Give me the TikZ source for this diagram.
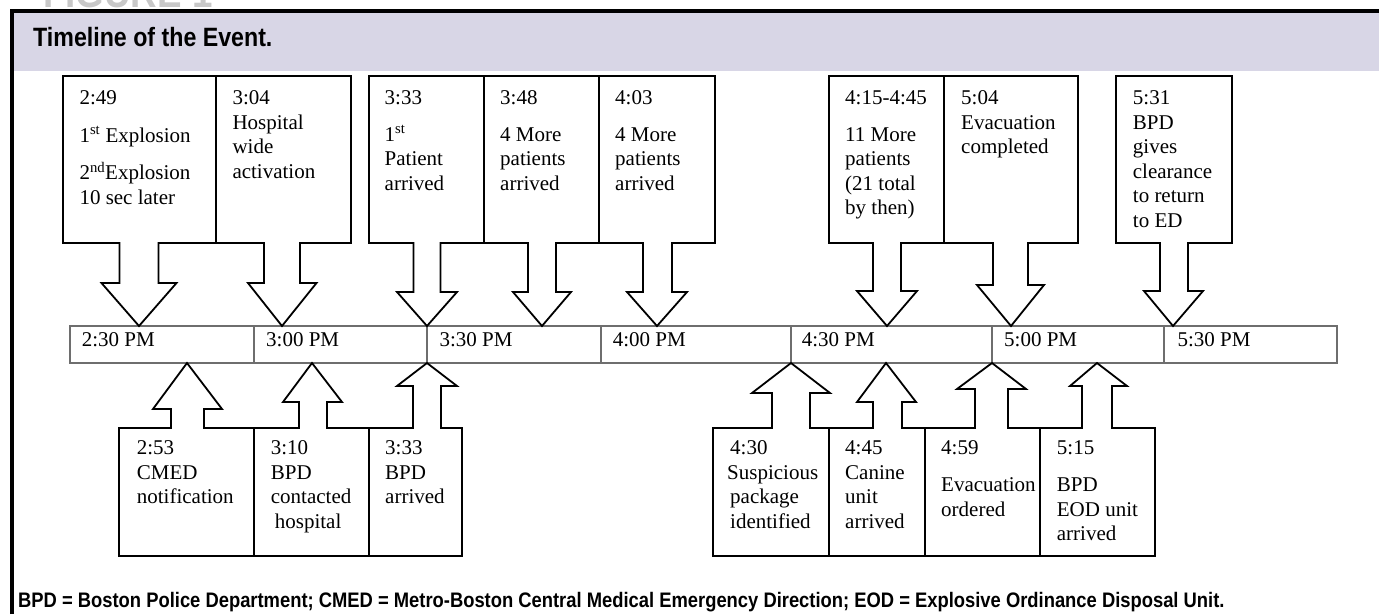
\documentclass[tikz,border=0pt]{standalone}
\usepackage{fontspec}
\setmainfont{Liberation Serif}
\newfontfamily\capfont[FakeStretch=0.875]{Liberation Sans}
\definecolor{headband}{RGB}{216,214,230}
\definecolor{figgrey}{RGB}{200,200,200}
\definecolor{tlgrey}{RGB}{110,110,110}
\tikzset{
  callout/.style={draw=black, line width=1.8pt, line join=miter},
  timeline/.style={draw=tlgrey, line width=1.2pt},
  evtext/.style={anchor=north west, inner sep=0pt, align=left,
    font=\fontsize{21}{24.5}\selectfont},
  ticklabel/.style={anchor=base west, inner sep=0pt,
    font=\fontsize{21}{24.5}\selectfont},
}
\begin{document}
\begin{tikzpicture}[x=1pt, y=-1pt]
                \useasboundingbox (0,0) rectangle (1379,614);
                % frame and title band
                \fill[headband] (14,13) rectangle (1379,71);
                \draw[line width=4pt] (12,614) -- (12,11.3) -- (1379,11.3);
                \node[anchor=base west, inner sep=0pt, text=figgrey,
                  font=\capfont\bfseries\fontsize{42}{42}\selectfont] (figlabel) at (43,7.5) {FIGURE 1};
                \node[anchor=base west, inner sep=0pt,
                  font=\capfont\bfseries\fontsize{26.5}{30}\selectfont] (title) at (33,46) {Timeline of the Event.};
                % time axis
                \draw[timeline] (70,326) rectangle (1337,363);
                \draw[timeline] (254,326) -- (254,363);
                \draw[timeline] (427,326) -- (427,363);
                \draw[timeline] (601,326) -- (601,363);
                \draw[timeline] (791,326) -- (791,363);
                \draw[timeline] (992,326) -- (992,363);
                \draw[timeline] (1164,326) -- (1164,363);
                \node[ticklabel] (t230) at (81.7,346) {2:30 PM};
                \node[ticklabel] (t300) at (266,346) {3:00 PM};
                \node[ticklabel] (t330) at (439.3,346) {3:30 PM};
                \node[ticklabel] (t400) at (612.7,346) {4:00 PM};
                \node[ticklabel] (t430) at (801.7,346) {4:30 PM};
                \node[ticklabel] (t500) at (1004,346) {5:00 PM};
                \node[ticklabel] (t530) at (1177.3,346) {5:30 PM};
                % callouts above the axis
                \draw[callout] (63,76) -- (216,76) -- (216,243) -- (158.5,243) -- (158.5,283) -- (176.5,283) -- (139,326)
                  -- (101.5,283) -- (119.5,283) -- (119.5,243) -- (63,243) -- cycle;
                \draw[callout] (216,76) -- (351,76) -- (351,243) -- (300,243) -- (300,283) -- (316.5,283) -- (282,326)
                  -- (248,283) -- (264,283) -- (264,243) -- (216,243) -- cycle;
                \draw[callout] (369,76) -- (484,76) -- (484,243) -- (440.5,243) -- (440.5,292) -- (457,292) -- (427,326)
                  -- (397,292) -- (413.5,292) -- (413.5,243) -- (369,243) -- cycle;
                \draw[callout] (484,76) -- (599,76) -- (599,243) -- (556,243) -- (556,292) -- (571,292) -- (542,326)
                  -- (513,292) -- (528,292) -- (528,243) -- (484,243) -- cycle;
                \draw[callout] (599,76) -- (715,76) -- (715,243) -- (672,243) -- (672,292) -- (687,292) -- (657,326)
                  -- (627,292) -- (643,292) -- (643,243) -- (599,243) -- cycle;
                \draw[callout] (829,76) -- (944,76) -- (944,243) -- (901,243) -- (901,291) -- (917,291) -- (887,326)
                  -- (857,291) -- (873,291) -- (873,243) -- (829,243) -- cycle;
                \draw[callout] (944,76) -- (1078,76) -- (1078,243) -- (1028,243) -- (1028,285) -- (1044,285) -- (1011,326)
                  -- (977,285) -- (993,285) -- (993,243) -- (944,243) -- cycle;
                \draw[callout] (1116,76) -- (1232,76) -- (1232,243) -- (1188,243) -- (1188,291) -- (1203,291) -- (1173,326)
                  -- (1144,291) -- (1160,291) -- (1160,243) -- (1116,243) -- cycle;
                % callouts below the axis
                \draw[callout] (119,556) -- (254,556) -- (254,428) -- (204,428) -- (204,409) -- (222,409) -- (187,363)
                  -- (153,409) -- (171,409) -- (171,428) -- (119,428) -- cycle;
                \draw[callout] (254,556) -- (369,556) -- (369,428) -- (327,428) -- (327,402) -- (342,402) -- (312,363)
                  -- (283,402) -- (299,402) -- (299,428) -- (254,428) -- cycle;
                \draw[callout] (369,556) -- (462,556) -- (462,428) -- (441,428) -- (441,386) -- (457,386) -- (427,363)
                  -- (397,386) -- (413,386) -- (413,428) -- (369,428) -- cycle;
                \draw[callout] (713,556) -- (829,556) -- (829,428) -- (810,428) -- (810,393) -- (830,393) -- (791,363)
                  -- (752,393) -- (772,393) -- (772,428) -- (713,428) -- cycle;
                \draw[callout] (829,556) -- (925,556) -- (925,428) -- (902,428) -- (902,402) -- (916,402) -- (886,363)
                  -- (857,402) -- (873,402) -- (873,428) -- (829,428) -- cycle;
                \draw[callout] (925,556) -- (1040,556) -- (1040,428) -- (1008,428) -- (1008,389) -- (1026,389) -- (992,363)
                  -- (957,389) -- (975,389) -- (975,428) -- (925,428) -- cycle;
                \draw[callout] (1040,556) -- (1155,556) -- (1155,428) -- (1112,428) -- (1112,386) -- (1127,386) -- (1097,363)
                  -- (1070,386) -- (1082,386) -- (1082,428) -- (1040,428) -- cycle;
                % event texts
                \node[evtext] (e249) at (79.3,90.8) {2:49\\[13pt]1\textsuperscript{st} Explosion\\[13pt]2\textsuperscript{nd}Explosion\\10 sec later};
                \node[evtext] (e304) at (232.3,90.8) {3:04\\Hospital\\wide\\activation};
                \node[evtext] (e333) at (384.5,90.8) {3:33\\[12pt]1\textsuperscript{st}\\Patient\\arrived};
                \node[evtext] (e348) at (500,90.8) {3:48\\[12pt]4 More\\patients\\arrived};
                \node[evtext] (e403) at (615,90.8) {4:03\\[12pt]4 More\\patients\\arrived};
                \node[evtext] (e415) at (845,90.8) {4:15-4:45\\[12pt]11 More\\patients\\(21 total\\by then)};
                \node[evtext] (e504) at (961,90.8) {5:04\\Evacuation\\completed};
                \node[evtext] (e531) at (1132.7,90.8) {5:31\\BPD\\gives\\clearance\\to return\\to ED};
                \node[evtext] (e253) at (136.7,440.8) {2:53\\CMED\\notification};
                \node[evtext] (e310) at (270.7,440.8) {3:10\\BPD\\contacted\\\hspace*{4pt}hospital};
                \node[evtext] (e333b) at (385,440.8) {3:33\\BPD\\arrived};
                \node[evtext] (e430) at (730,440.8) {4:30\\\hspace*{-3pt}Suspicious\\package\\identified};
                \node[evtext] (e445) at (845,440.8) {4:45\\Canine\\unit\\arrived};
                \node[evtext] (e459) at (941,440.8) {4:59\\[12.5pt]Evacuation\\ordered};
                \node[evtext] (e515) at (1056.7,440.8) {5:15\\[12.5pt]BPD\\EOD unit\\arrived};
                % abbreviations
                \node[anchor=base west, inner sep=0pt,
                  font=\capfont\bfseries\fontsize{21}{24}\selectfont] (legend) at (18,607)
                  {BPD = Boston Police Department; CMED = Metro-Boston Central Medical Emergency Direction; EOD = Explosive Ordinance Disposal Unit.};
\end{tikzpicture}
\end{document}
